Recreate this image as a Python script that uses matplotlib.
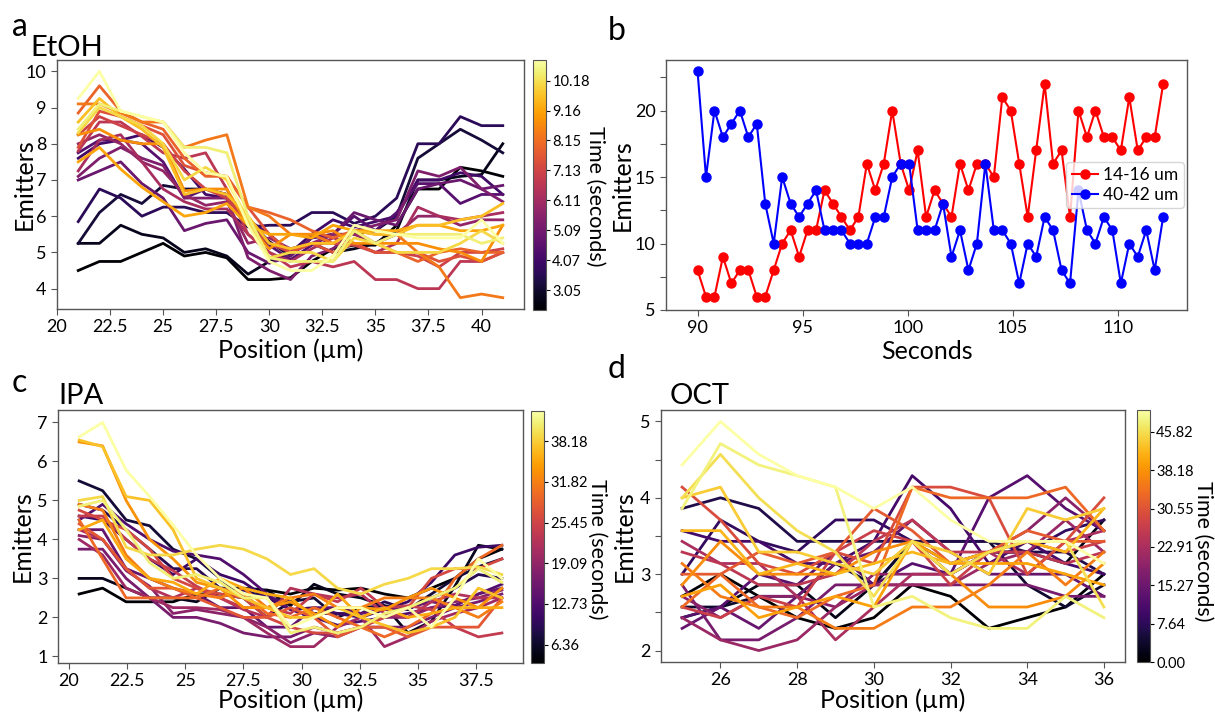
import numpy as np
import matplotlib
matplotlib.use("Agg")
import matplotlib.pyplot as plt
from matplotlib import cm
from matplotlib.colors import Normalize
from matplotlib.ticker import FuncFormatter, MultipleLocator

plt.rcParams['font.family'] = ['Lato', 'DejaVu Sans']

# ---- panel a : EtOH ----
etoh_pos = [21, 22, 23, 24, 25, 26, 27, 28, 29, 30, 31, 32, 33, 34, 35, 36, 37, 38, 39, 40, 41]
etoh_times = [2.37, 2.80, 3.22, 3.65, 4.07, 4.50, 4.93, 5.35, 5.78, 6.20, 6.63,
              7.06, 7.48, 7.91, 8.33, 8.76, 9.19, 9.61, 10.04, 10.46, 10.89]
etoh_lines = [
    [4.5, 4.75, 4.75, 5.0, 5.25, 4.9, 5.0, 4.85, 4.25, 4.25, 4.3, 4.75, 5.1, 5.2, 5.2, 5.75, 6.75, 6.75, 7.35, 7.25, 7.1],
    [5.25, 5.25, 5.75, 5.5, 5.4, 5.0, 5.1, 4.9, 4.4, 4.75, 5.0, 5.25, 5.0, 5.1, 5.25, 5.6, 7.0, 7.0, 7.1, 7.15, 8.0],
    [5.25, 6.1, 6.6, 6.35, 6.85, 6.75, 6.75, 6.6, 5.9, 5.3, 4.9, 5.4, 5.5, 5.5, 5.6, 6.0, 7.6, 8.0, 8.4, 8.1, 7.75],
    [5.85, 6.75, 6.5, 6.0, 6.25, 6.25, 6.1, 6.1, 5.7, 5.75, 5.75, 6.1, 6.1, 5.8, 6.0, 6.5, 8.0, 8.0, 8.75, 8.5, 8.5],
    [7.6, 8.0, 8.1, 8.25, 7.9, 7.3, 6.6, 6.5, 5.9, 5.5, 5.0, 5.5, 5.9, 5.7, 5.85, 6.0, 7.0, 7.0, 7.2, 7.1, 6.6],
    [7.75, 8.1, 8.1, 8.0, 7.5, 6.5, 6.75, 6.6, 5.8, 5.2, 4.8, 5.2, 5.5, 6.0, 5.6, 6.1, 6.9, 6.9, 6.35, 6.6, 6.6],
    [7.0, 7.25, 7.5, 6.9, 6.5, 5.6, 5.8, 5.9, 5.0, 4.7, 4.9, 5.4, 5.5, 6.1, 5.9, 5.75, 6.75, 6.9, 7.0, 6.75, 6.85],
    [7.1, 7.6, 7.9, 7.6, 7.4, 6.5, 6.5, 6.5, 4.85, 4.5, 4.25, 4.9, 5.1, 5.6, 5.75, 5.9, 7.25, 7.1, 7.35, 6.75, 6.4],
    [8.0, 8.25, 8.0, 7.5, 7.25, 6.6, 6.3, 6.4, 5.25, 5.4, 5.1, 5.25, 5.5, 5.5, 5.25, 5.5, 6.0, 6.0, 5.75, 5.9, 5.9],
    [7.25, 8.1, 8.25, 7.5, 6.75, 6.4, 6.2, 6.2, 5.5, 5.0, 4.75, 5.1, 5.4, 5.25, 5.0, 5.25, 6.25, 6.0, 5.9, 6.0, 6.1],
    [7.8, 8.6, 8.6, 8.2, 7.75, 7.6, 7.75, 6.75, 5.5, 5.0, 4.6, 4.75, 4.6, 4.75, 4.25, 4.25, 4.0, 4.0, 4.75, 4.75, 5.0],
    [8.25, 8.75, 8.5, 8.25, 8.0, 7.25, 6.75, 6.5, 5.75, 5.25, 5.0, 5.25, 5.25, 5.2, 5.0, 5.0, 4.9, 4.6, 5.0, 5.0, 5.1],
    [7.9, 8.9, 8.75, 8.5, 8.25, 7.4, 7.2, 7.1, 6.25, 5.5, 5.0, 5.25, 5.0, 5.25, 5.0, 5.0, 5.0, 4.75, 4.9, 4.75, 5.0],
    [8.85, 9.6, 8.9, 8.6, 8.4, 7.6, 7.1, 7.1, 6.25, 6.1, 5.9, 5.6, 5.4, 5.6, 5.25, 5.0, 4.75, 5.0, 5.1, 5.0, 5.0],
    [9.1, 9.1, 8.85, 8.6, 8.6, 7.9, 8.1, 8.25, 6.25, 6.0, 5.5, 5.5, 5.25, 5.6, 5.5, 5.5, 5.0, 4.6, 3.75, 3.85, 3.75],
    [8.25, 8.4, 8.1, 8.0, 8.0, 6.7, 6.75, 6.75, 5.75, 5.1, 5.5, 5.5, 5.6, 5.25, 5.25, 5.25, 5.25, 5.1, 5.0, 4.75, 5.75],
    [7.5, 7.9, 7.3, 6.8, 6.4, 6.0, 6.1, 6.35, 5.75, 5.5, 5.5, 5.4, 5.75, 5.6, 5.6, 5.6, 5.75, 5.75, 5.6, 5.6, 5.75],
    [8.6, 9.25, 8.75, 8.4, 7.9, 6.6, 6.75, 6.6, 6.0, 5.25, 5.1, 5.25, 5.25, 5.6, 5.5, 5.5, 5.75, 5.75, 5.9, 6.0, 6.35],
    [8.3, 9.0, 8.75, 8.5, 8.0, 7.0, 7.35, 7.0, 5.9, 4.85, 5.0, 5.0, 4.75, 5.4, 5.25, 5.0, 5.0, 5.0, 5.25, 5.6, 5.25],
    [8.4, 9.1, 8.9, 8.75, 8.6, 7.9, 7.9, 7.75, 6.0, 4.85, 4.75, 4.75, 4.75, 5.6, 5.25, 5.5, 5.5, 5.5, 5.5, 5.25, 5.4],
    [9.25, 10.0, 8.9, 8.75, 8.6, 7.75, 7.2, 7.1, 5.75, 4.75, 4.5, 4.5, 4.9, 5.75, 5.6, 5.5, 5.4, 5.4, 5.4, 5.9, 5.25],
]
etoh_cbar_ticks = [3.05, 4.07, 5.09, 6.11, 7.13, 8.15, 9.16, 10.18]

# ---- panel b : two regions over time ----
red_counts = [8, 6, 6, 9, 7, 8, 8, 6, 6, 8, 10, 11, 9, 11, 11, 14, 13, 12, 11, 12,
              16, 14, 16, 20, 16, 14, 17, 12, 14, 13, 12, 16, 14, 16, 16, 15, 21, 20, 16, 12,
              17, 22, 16, 17, 12, 20, 18, 20, 18, 18, 17, 21, 17, 18, 18, 22]
blue_counts = [23, 15, 20, 18, 19, 20, 18, 19, 13, 10, 15, 13, 12, 13, 14, 11, 11, 11, 10, 10,
               10, 12, 12, 15, 16, 16, 11, 11, 11, 13, 9, 11, 8, 10, 16, 11, 11, 10, 7, 10,
               9, 12, 11, 8, 7, 14, 11, 10, 12, 11, 7, 10, 9, 11, 8, 12]
frame_dt = 0.403
seconds = 90 + frame_dt * np.arange(len(red_counts))

# ---- panel c : IPA ----
ipa_pos = np.linspace(20.44, 38.6, 19)
ipa_times = [3.50, 5.38, 7.26, 9.13, 11.01, 12.89, 14.77, 16.64, 18.52, 20.40, 22.28,
             24.12, 26.00, 27.88, 29.76, 31.63, 33.51, 35.39, 37.27, 39.14, 41.02, 42.90]
ipa_lines = [
    [2.6, 2.75, 2.4, 2.4, 2.4, 2.6, 2.6, 2.5, 2.7, 2.6, 2.75, 2.7, 2.75, 2.6, 2.5, 2.75, 3.0, 3.5, 3.75],
    [3.0, 3.0, 2.75, 2.5, 2.5, 2.4, 2.75, 2.75, 2.7, 2.3, 2.85, 2.6, 2.5, 2.3, 1.6, 1.9, 2.8, 3.85, 3.75],
    [5.5, 5.25, 4.5, 4.35, 3.75, 3.5, 3.0, 2.5, 2.0, 2.4, 2.5, 2.0, 2.25, 2.3, 2.2, 2.6, 3.0, 3.3, 3.5],
    [4.9, 4.75, 4.25, 3.75, 3.25, 3.25, 2.75, 2.7, 2.5, 2.4, 2.1, 2.1, 2.1, 2.4, 2.2, 2.5, 2.75, 3.1, 3.0],
    [4.6, 4.5, 4.0, 3.5, 3.1, 3.5, 3.1, 2.9, 2.5, 2.2, 2.25, 2.1, 2.0, 2.2, 2.4, 2.9, 3.6, 3.8, 3.85],
    [4.5, 4.9, 4.4, 4.0, 3.7, 3.6, 3.5, 3.1, 2.6, 2.2, 2.0, 1.8, 1.9, 2.0, 2.1, 2.25, 2.3, 2.6, 2.85],
    [4.25, 4.25, 3.25, 3.0, 2.75, 2.6, 2.25, 2.25, 1.75, 1.75, 2.25, 2.25, 2.1, 2.2, 2.25, 2.4, 2.3, 2.6, 2.75],
    [3.75, 3.75, 3.0, 2.5, 2.0, 2.0, 1.85, 1.6, 1.5, 1.5, 1.75, 1.6, 1.75, 1.75, 1.75, 2.0, 2.25, 2.4, 2.6],
    [4.1, 4.0, 3.2, 2.8, 2.1, 2.2, 2.1, 2.0, 1.75, 1.35, 1.6, 1.5, 1.75, 2.0, 2.0, 2.25, 2.4, 2.5, 2.7],
    [4.0, 3.6, 2.75, 2.5, 2.25, 2.25, 2.2, 2.0, 1.6, 1.25, 1.25, 1.75, 2.0, 1.25, 1.5, 1.9, 2.1, 2.25, 2.5],
    [4.25, 4.0, 3.25, 2.75, 2.5, 2.75, 2.5, 2.2, 2.0, 2.75, 2.6, 2.5, 2.6, 2.1, 2.0, 2.4, 2.6, 2.5, 2.5],
    [4.6, 4.6, 4.0, 3.5, 3.2, 2.8, 2.5, 2.25, 2.25, 2.1, 2.6, 2.4, 2.75, 2.25, 2.3, 2.2, 1.75, 1.5, 1.6],
    [4.75, 4.5, 4.25, 3.75, 3.0, 2.75, 2.6, 2.5, 2.0, 1.75, 1.6, 1.6, 1.75, 2.0, 2.25, 3.0, 3.25, 3.25, 3.5],
    [4.4, 4.0, 3.25, 2.75, 2.75, 2.5, 2.25, 2.0, 2.0, 2.25, 2.0, 1.5, 1.75, 1.75, 1.5, 1.75, 1.75, 1.75, 2.5],
    [4.5, 3.5, 2.5, 2.5, 2.5, 2.5, 2.75, 2.6, 2.1, 2.0, 2.25, 2.0, 1.75, 1.5, 1.75, 2.1, 3.0, 3.5, 3.85],
    [4.9, 4.75, 3.6, 3.0, 2.75, 2.6, 2.5, 2.75, 2.25, 2.5, 2.6, 2.25, 2.25, 2.5, 2.5, 2.5, 2.25, 2.0, 2.4],
    [6.5, 6.4, 5.0, 4.0, 3.5, 2.9, 2.75, 2.25, 2.25, 2.4, 2.1, 1.75, 2.25, 2.2, 2.5, 2.75, 2.5, 2.25, 2.75],
    [4.25, 4.5, 3.5, 3.0, 2.9, 2.6, 3.0, 2.75, 2.6, 2.5, 2.0, 2.6, 2.0, 2.25, 2.0, 2.1, 2.25, 2.25, 2.25],
    [6.55, 6.38, 5.1, 5.0, 4.25, 3.0, 2.75, 2.5, 2.25, 2.0, 2.0, 2.25, 2.0, 1.8, 1.6, 1.75, 2.0, 2.75, 2.5],
    [5.0, 5.1, 3.8, 3.6, 3.6, 3.75, 3.85, 3.75, 3.5, 3.1, 3.25, 2.75, 2.6, 2.85, 3.0, 3.25, 3.25, 3.3, 3.1],
    [4.85, 5.0, 4.25, 3.4, 3.0, 3.1, 2.9, 2.5, 2.5, 1.6, 1.75, 1.6, 1.75, 2.1, 2.25, 2.5, 2.75, 3.25, 2.9],
    [6.63, 7.0, 5.78, 5.1, 4.37, 3.6, 3.0, 2.6, 2.5, 1.75, 2.0, 2.25, 2.25, 2.0, 2.25, 1.75, 2.5, 3.5, 3.0],
]
ipa_cbar_ticks = [6.36, 12.73, 19.09, 25.45, 31.82, 38.18]

# ---- panel d : OCT ----
oct_pos = [25, 26, 27, 28, 29, 30, 31, 32, 33, 34, 35, 36]
oct_times = [0.00, 2.09, 4.18, 6.28, 8.37, 10.46, 12.55, 14.64, 16.73, 18.83, 20.92, 23.01,
             25.10, 27.19, 29.28, 31.38, 33.47, 35.56, 37.65, 39.74, 41.83, 43.93, 46.02, 48.11, 50.20]
oct_lines = [
    [2.71, 3.0, 2.71, 2.43, 2.29, 2.43, 2.86, 2.71, 2.29, 2.43, 2.57, 3.0],
    [2.43, 2.57, 2.86, 2.86, 2.43, 2.86, 3.43, 3.0, 3.29, 3.29, 3.14, 3.71],
    [2.57, 2.57, 2.71, 2.71, 3.14, 2.86, 3.43, 3.43, 3.43, 2.86, 2.57, 2.86],
    [3.86, 4.0, 3.86, 3.43, 3.43, 3.43, 3.43, 3.43, 3.43, 3.29, 3.29, 3.0],
    [3.0, 3.71, 3.43, 3.29, 3.71, 3.71, 3.43, 3.14, 3.29, 3.29, 3.57, 3.71],
    [3.57, 3.43, 3.43, 3.14, 3.14, 3.43, 4.29, 3.86, 3.14, 3.43, 3.14, 3.0],
    [2.43, 2.57, 3.0, 2.86, 3.29, 2.86, 3.14, 3.0, 4.0, 4.29, 3.86, 3.57],
    [2.29, 2.57, 2.29, 2.71, 3.14, 3.29, 3.71, 3.29, 3.0, 3.0, 3.0, 2.71],
    [2.86, 2.14, 2.14, 2.43, 2.86, 2.86, 2.86, 2.86, 2.86, 2.86, 2.71, 2.71],
    [2.71, 2.43, 2.71, 2.71, 2.57, 3.0, 3.0, 3.0, 3.29, 3.57, 4.0, 3.57],
    [2.43, 2.14, 2.0, 2.14, 2.57, 2.86, 2.86, 2.86, 3.14, 3.29, 3.71, 3.29],
    [3.43, 3.14, 3.14, 2.71, 2.14, 2.57, 3.0, 3.0, 3.29, 3.0, 3.43, 3.57],
    [3.29, 3.14, 2.86, 2.86, 3.0, 3.43, 3.71, 3.29, 3.29, 3.29, 3.14, 3.29],
    [2.57, 2.43, 2.71, 2.57, 3.29, 3.57, 3.43, 2.86, 3.29, 3.43, 3.29, 3.43],
    [4.14, 3.71, 3.14, 3.0, 3.29, 3.14, 4.14, 4.14, 4.0, 3.0, 3.43, 4.0],
    [3.0, 3.0, 3.29, 3.14, 3.29, 3.86, 3.57, 3.14, 3.29, 3.57, 3.43, 3.43],
    [2.57, 3.0, 2.57, 2.43, 2.71, 2.86, 4.14, 4.0, 4.0, 4.0, 4.14, 3.57],
    [3.14, 2.71, 2.57, 2.57, 2.29, 2.29, 2.57, 2.57, 2.86, 3.29, 2.86, 3.29],
    [2.86, 3.43, 3.0, 3.0, 3.0, 3.29, 3.43, 3.0, 2.57, 2.57, 2.71, 3.14],
    [2.71, 2.86, 2.43, 2.57, 2.71, 2.57, 3.43, 3.14, 3.14, 3.14, 3.0, 2.86],
    [3.57, 3.57, 3.0, 3.14, 3.0, 3.14, 3.29, 3.14, 3.29, 3.43, 3.29, 3.86],
    [4.0, 4.14, 3.29, 3.29, 3.14, 3.0, 3.43, 3.29, 3.0, 3.86, 3.71, 3.86],
    [4.0, 4.57, 4.0, 3.57, 3.29, 2.71, 3.43, 3.0, 3.29, 3.43, 3.43, 2.57],
    [3.86, 4.71, 4.43, 4.29, 4.14, 2.57, 2.71, 2.43, 2.29, 2.29, 2.71, 2.43],
    [4.43, 5.0, 4.57, 4.29, 4.14, 3.86, 4.14, 3.71, 3.43, 3.43, 3.43, 3.14],
]
oct_cbar_ticks = [0.00, 7.64, 15.27, 22.91, 30.55, 38.18, 45.82]

W, H = 1215, 718


def box(x0, y0, x1, y1):
    # pixel box (top-left origin) -> figure fraction
    return [x0 / W, 1 - y1 / H, (x1 - x0) / W, (y1 - y0) / H]


def style(ax):
    for s in ax.spines.values():
        s.set_color('#555555')
        s.set_linewidth(1.0)
    ax.tick_params(labelsize=13, length=4, color='#555555')


def place_labels(ax, ylab_px, xlab_px, x0, x1, y0, y1):
    # put axis labels at given pixel centres
    ax.yaxis.set_label_coords((ylab_px - x0) / (x1 - x0), 0.5)
    ax.xaxis.set_label_coords(0.5, -(xlab_px - y1) / (y1 - y0))
    ax.yaxis.label.set_va('center')
    ax.xaxis.label.set_va('center')


fmt_g = FuncFormatter(lambda v, p: '%g' % v)


def profile_panel(ax, cax, pos, times, lines, cticks, cb_label_x, cb_label_y):
    norm = Normalize(vmin=min(times), vmax=max(times))
    cmap = plt.get_cmap('inferno')
    for t, vals in zip(times, lines):
        ax.plot(pos, vals, color=cmap(norm(t)), lw=2)
    style(ax)
    ax.set_xlabel('Position (µm)', fontsize=18)
    ax.set_ylabel('Emitters', fontsize=18)
    sm = cm.ScalarMappable(norm=norm, cmap=cmap)
    cb = plt.colorbar(sm, cax=cax, ticks=cticks)
    cb.ax.set_yticklabels(['%.2f' % v for v in cticks])
    cb.ax.tick_params(labelsize=10.5, length=3, pad=1.5)
    cb.outline.set_edgecolor('#555555')
    cb.set_label('Time (seconds)', fontsize=15.5, rotation=270, va='center')
    cb.ax.yaxis.set_label_coords(cb_label_x, cb_label_y)


fig = plt.figure(figsize=(W / 100, H / 100), dpi=100)

# a
ax_a = fig.add_axes(box(57, 60, 524, 309))
cax_a = fig.add_axes(box(533, 60, 546, 310))
profile_panel(ax_a, cax_a, etoh_pos, etoh_times, etoh_lines, etoh_cbar_ticks,
              (595 - 533) / 13, 0.455)
place_labels(ax_a, 24, 350, 57, 524, 60, 309)
ax_a.xaxis.set_major_locator(MultipleLocator(2.5))
ax_a.xaxis.set_major_formatter(fmt_g)
ax_a.yaxis.set_major_locator(MultipleLocator(1))

# b
ax_b = fig.add_axes(box(666, 60, 1187, 310))
ax_b.plot(seconds, red_counts, '-o', color='red', ms=6.5, lw=1.5, label='14-16 um')
ax_b.plot(seconds, blue_counts, '-o', color='blue', ms=6.5, lw=1.5, label='40-42 um')
style(ax_b)
ax_b.set_xlim(88.5, 113.3)
ax_b.set_ylim(5, 23.8)
ax_b.yaxis.set_major_locator(MultipleLocator(2.5))
ax_b.yaxis.set_major_formatter(FuncFormatter(lambda v, p: '%d' % v if v % 5 == 0 else ''))
ax_b.set_xlabel('Seconds', fontsize=18)
ax_b.set_ylabel('Emitters', fontsize=18)
place_labels(ax_b, 622, 352, 666, 1187, 60, 310)
ax_b.legend(loc='center right', fontsize=12.5, handlelength=1.5, handletextpad=0.3,
            borderpad=0.3, labelspacing=0.2, borderaxespad=0.2)

# c
ax_c = fig.add_axes(box(58, 410, 523, 663))
cax_c = fig.add_axes(box(531, 411, 544, 663))
profile_panel(ax_c, cax_c, ipa_pos, ipa_times, ipa_lines, ipa_cbar_ticks,
              (597 - 531) / 13, 0.45)
place_labels(ax_c, 22, 700, 58, 523, 410, 663)
ax_c.xaxis.set_major_locator(MultipleLocator(2.5))
ax_c.xaxis.set_major_formatter(fmt_g)
ax_c.yaxis.set_major_locator(MultipleLocator(1))
ax_c.set_ylim(0.83, 7.32)

# d
ax_d = fig.add_axes(box(661, 410, 1125, 662))
cax_d = fig.add_axes(box(1137, 410, 1150, 662))
profile_panel(ax_d, cax_d, oct_pos, oct_times, oct_lines, oct_cbar_ticks,
              (1203 - 1137) / 13, 0.44)
place_labels(ax_d, 624, 700, 661, 1125, 410, 662)
ax_d.xaxis.set_major_locator(MultipleLocator(2))
ax_d.yaxis.set_major_locator(MultipleLocator(0.5))
ax_d.yaxis.set_major_formatter(FuncFormatter(lambda v, p: '%d' % v if abs(v - round(v)) < 1e-6 else ''))

# panel letters and titles
for x, y, s in [(12, 36, 'a'), (608, 40, 'b'), (12, 392, 'c'), (608, 378, 'd')]:
    fig.text(x / W, 1 - y / H, s, fontsize=23, ha='left', va='baseline')
for x, y, s in [(30, 56, 'EtOH'), (58, 404, 'IPA'), (670, 404, 'OCT')]:
    fig.text(x / W, 1 - y / H, s, fontsize=21, ha='left', va='baseline')

fig.savefig('out.png', dpi=100)
